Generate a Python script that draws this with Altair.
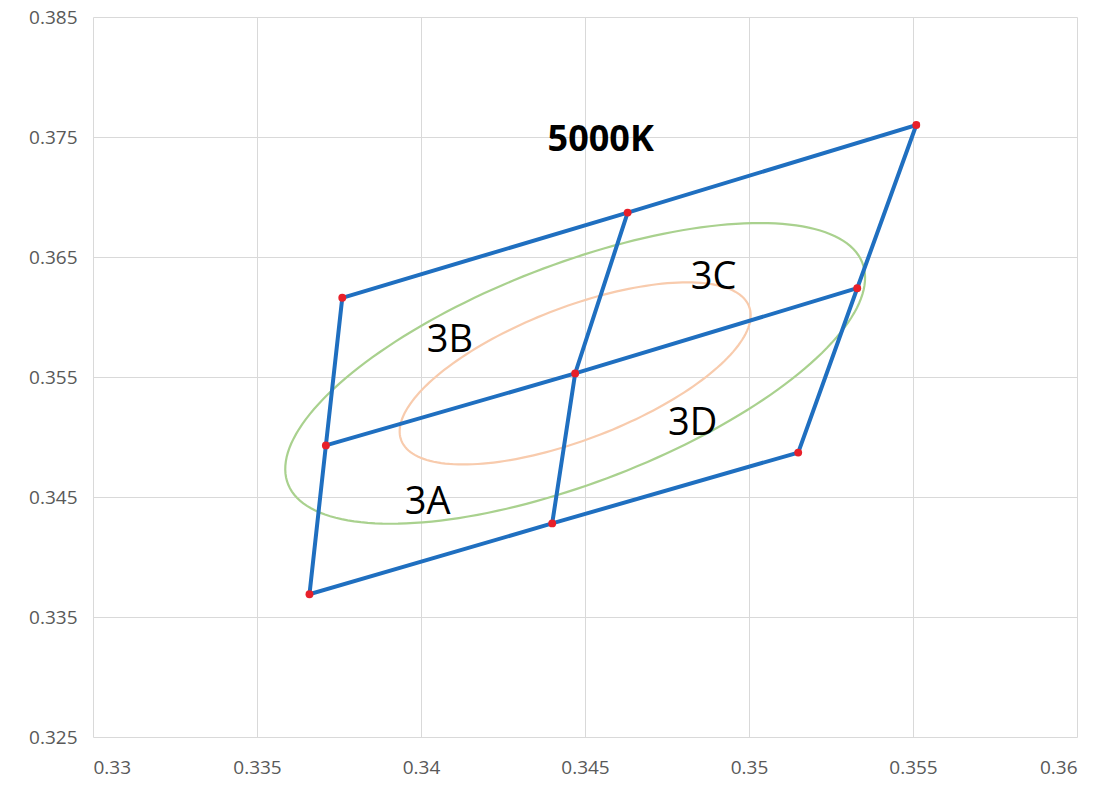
import altair as alt
import pandas as pd
import numpy as np

# ---- data ----
x_ticks = [0.33, 0.335, 0.34, 0.345, 0.35, 0.355, 0.36]
y_ticks = [0.325, 0.335, 0.345, 0.355, 0.365, 0.375, 0.385]

# outer quadrangle (closed)
outer_x = [0.3376, 0.3463, 0.3551, 0.3533, 0.3515, 0.3440, 0.3366, 0.3371, 0.3376]
outer_y = [0.3616, 0.3687, 0.3760, 0.3624, 0.3487, 0.3428, 0.3369, 0.3493, 0.3616]
# inner dividing lines
mid1_x = [0.3371, 0.3447, 0.3533]
mid1_y = [0.3493, 0.3553, 0.3624]
mid2_x = [0.3463, 0.3447, 0.3440]
mid2_y = [0.3687, 0.3553, 0.3428]

# red corner / midpoint markers
pt_x = [0.3376, 0.3463, 0.3551, 0.3533, 0.3515, 0.3440, 0.3366, 0.3371, 0.3447]
pt_y = [0.3616, 0.3687, 0.3760, 0.3624, 0.3487, 0.3428, 0.3369, 0.3493, 0.3553]

# MacAdam-type ellipses (center, semi-axes, rotation)
ell_center = (0.3447, 0.3553)
ell_theta_deg = 59.62
ell_names = ["outer", "inner"]
ell_a = [0.01408, 0.00853]
ell_b = [0.00607, 0.00367]

# labels
lab_text = ["3A", "3B", "3C", "3D"]
lab_x = [0.3402, 0.34088, 0.34892, 0.34828]
lab_y = [0.3445, 0.35803, 0.36326, 0.35106]
title_text = ["5000K"]
title_x = [0.34548]
title_y = [0.37471]

# ---- tables ----
seg_rows = []
for name, xs, ys in [("outer", outer_x, outer_y), ("mid1", mid1_x, mid1_y), ("mid2", mid2_x, mid2_y)]:
    for i, (xv, yv) in enumerate(zip(xs, ys)):
        seg_rows.append({"path": name, "i": i, "x": xv, "y": yv})
seg = pd.DataFrame(seg_rows)

pts = pd.DataFrame({"x": pt_x, "y": pt_y})

th = np.radians(ell_theta_deg)
t = np.linspace(0, 2 * np.pi, 181)
ell_rows = []
for name, a, b in zip(ell_names, ell_a, ell_b):
    ex = ell_center[0] + a * np.cos(t) * np.cos(th) - b * np.sin(t) * np.sin(th)
    ey = ell_center[1] + a * np.cos(t) * np.sin(th) + b * np.sin(t) * np.cos(th)
    for i, (xv, yv) in enumerate(zip(ex, ey)):
        ell_rows.append({"ell": name, "i": i, "x": float(xv), "y": float(yv)})
ell = pd.DataFrame(ell_rows)

labs = pd.DataFrame({"t": lab_text, "x": lab_x, "y": lab_y})
ttl = pd.DataFrame({"t": title_text, "x": title_x, "y": title_y})

# ---- encodings ----
X = alt.X("x:Q",
          scale=alt.Scale(domain=[0.33, 0.36], nice=False, zero=False),
          axis=alt.Axis(values=x_ticks, format=".3~f", labelPadding=21),
          title=None)
Y = alt.Y("y:Q",
          scale=alt.Scale(domain=[0.325, 0.385], nice=False, zero=False),
          axis=alt.Axis(values=y_ticks, format=".3~f", labelPadding=16),
          title=None)

ellipses = alt.Chart(ell).mark_line(strokeWidth=2.2, clip=True).encode(
    x=X, y=Y, detail="ell:N", order="i:Q",
    color=alt.Color("ell:N", scale=alt.Scale(domain=ell_names, range=["#A9D18E", "#F8CBAD"]), legend=None),
)

lines = alt.Chart(seg).mark_line(color="#1F6FC0", strokeWidth=4).encode(
    x=X, y=Y, detail="path:N", order="i:Q"
)

dots = alt.Chart(pts).mark_circle(color="#E8202A", size=62, opacity=1).encode(x=X, y=Y)

region_labels = alt.Chart(labs).mark_text(
    font="Open Sans", fontSize=38, color="#000000", align="center", baseline="middle"
).encode(x=X, y=Y, text="t:N")

title_label = alt.Chart(ttl).mark_text(
    font="Open Sans", fontSize=36, fontWeight="bold", color="#000000", align="center", baseline="middle"
).encode(x=X, y=Y, text="t:N")

chart = alt.layer(ellipses, lines, dots, region_labels, title_label).properties(
    width=984, height=720,
    padding={"left": 93, "top": 17, "right": 28, "bottom": 66},
    autosize="none",
    background="white",
).configure_axis(
    grid=True, gridColor="#D9D9D9", gridWidth=1,
    domain=False, ticks=False, tickSize=0,
    labelColor="#595959", labelFont="Open Sans", labelFontSize=19,
).configure_view(stroke="transparent")

chart.save("out.html", embed_options={"renderer": "svg", "actions": False})
